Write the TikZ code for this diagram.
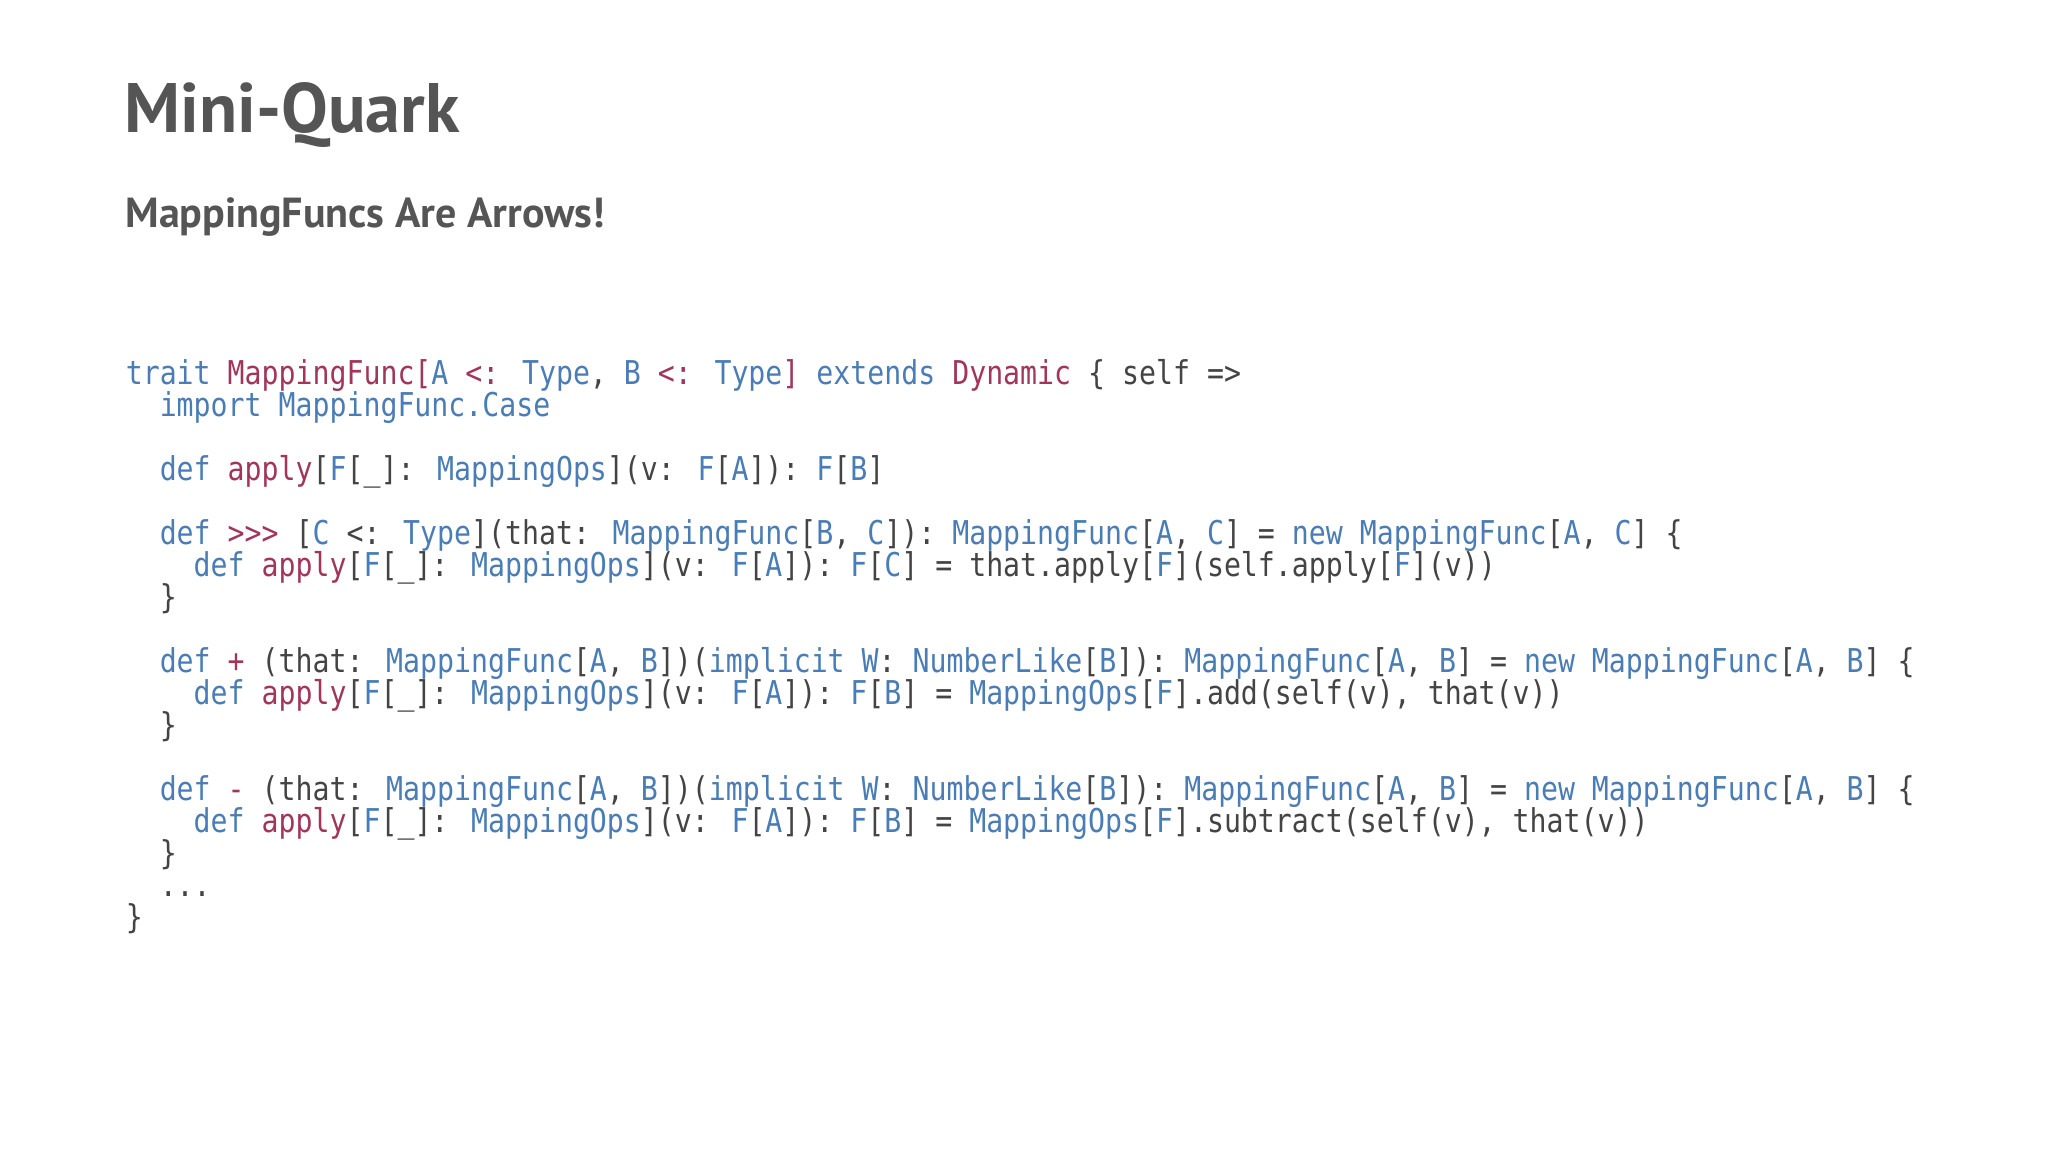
\documentclass[tikz,border=0pt]{standalone}
\usepackage{fontspec}
\newfontfamily\titlefont{PT Sans}
\newfontfamily\codefont{DejaVu Sans Mono}[FakeStretch=0.86]
\definecolor{kwblue}{HTML}{4A7DB5}
\definecolor{nmred}{HTML}{A2365A}
\definecolor{txtgray}{HTML}{444444}
\definecolor{headgray}{HTML}{555555}
\newcommand{\kw}[1]{\textcolor{kwblue}{#1}}
\newcommand{\nm}[1]{\textcolor{nmred}{#1}}
\newcommand{\ind}{\hphantom{xx}}
\tikzset{
  code/.style={anchor=base west,inner sep=0pt,text=txtgray,font=\codefont\fontsize{16.4pt}{16pt}\selectfont},
}
\begin{document}
\begin{tikzpicture}[x=1pt,y=1pt]
  \useasboundingbox[fill=white] (0,0) rectangle (1024,-576);

  \node[anchor=base west,inner sep=0pt,text=headgray,font=\titlefont\bfseries\fontsize{35pt}{40pt}\selectfont] (title) at (62,-66) {Mini-Quark};
  \node[anchor=base west,inner sep=0pt,text=headgray,font=\titlefont\bfseries\fontsize{21pt}{24pt}\selectfont] (subtitle) at (62.5,-113.5) {MappingFuncs Are Arrows!};

  % code listing, one node per line
  \node[code] (l1) at (62.7,-192) {\kw{trait} \nm{MappingFunc[}\kw{A} \nm{<:} \kw{Type}, \kw{B} \nm{<:} \kw{Type}\nm{]} \kw{extends} \nm{Dynamic} \{ self =>};
  \node[code] (l2) at (62.7,-208) {\ind\kw{import} \kw{MappingFunc.Case}};
  \node[code] (l4) at (62.7,-240) {\ind\kw{def} \nm{apply}[\kw{F}[\_]: \kw{MappingOps}](v: \kw{F}[\kw{A}]): \kw{F}[\kw{B}]};
  \node[code] (l6) at (62.7,-272) {\ind\kw{def} \nm{>>>} [\kw{C} <: \kw{Type}](that: \kw{MappingFunc}[\kw{B}, \kw{C}]): \kw{MappingFunc}[\kw{A}, \kw{C}] = \kw{new} \kw{MappingFunc}[\kw{A}, \kw{C}] \{};
  \node[code] (l7) at (62.7,-288) {\ind\ind\kw{def} \nm{apply}[\kw{F}[\_]: \kw{MappingOps}](v: \kw{F}[\kw{A}]): \kw{F}[\kw{C}] = that.apply[\kw{F}](self.apply[\kw{F}](v))};
  \node[code] (l8) at (62.7,-304) {\ind\}};
  \node[code] (l10) at (62.7,-336) {\ind\kw{def} \nm{+} (that: \kw{MappingFunc}[\kw{A}, \kw{B}])(\kw{implicit} \kw{W}: \kw{NumberLike}[\kw{B}]): \kw{MappingFunc}[\kw{A}, \kw{B}] = \kw{new} \kw{MappingFunc}[\kw{A}, \kw{B}] \{};
  \node[code] (l11) at (62.7,-352) {\ind\ind\kw{def} \nm{apply}[\kw{F}[\_]: \kw{MappingOps}](v: \kw{F}[\kw{A}]): \kw{F}[\kw{B}] = \kw{MappingOps}[\kw{F}].add(self(v), that(v))};
  \node[code] (l12) at (62.7,-368) {\ind\}};
  \node[code] (l14) at (62.7,-400) {\ind\kw{def} \nm{-} (that: \kw{MappingFunc}[\kw{A}, \kw{B}])(\kw{implicit} \kw{W}: \kw{NumberLike}[\kw{B}]): \kw{MappingFunc}[\kw{A}, \kw{B}] = \kw{new} \kw{MappingFunc}[\kw{A}, \kw{B}] \{};
  \node[code] (l15) at (62.7,-416) {\ind\ind\kw{def} \nm{apply}[\kw{F}[\_]: \kw{MappingOps}](v: \kw{F}[\kw{A}]): \kw{F}[\kw{B}] = \kw{MappingOps}[\kw{F}].subtract(self(v), that(v))};
  \node[code] (l16) at (62.7,-432) {\ind\}};
  \node[code] (l17) at (62.7,-448) {\ind...};
  \node[code] (l18) at (62.7,-464) {\}};
\end{tikzpicture}
\end{document}
